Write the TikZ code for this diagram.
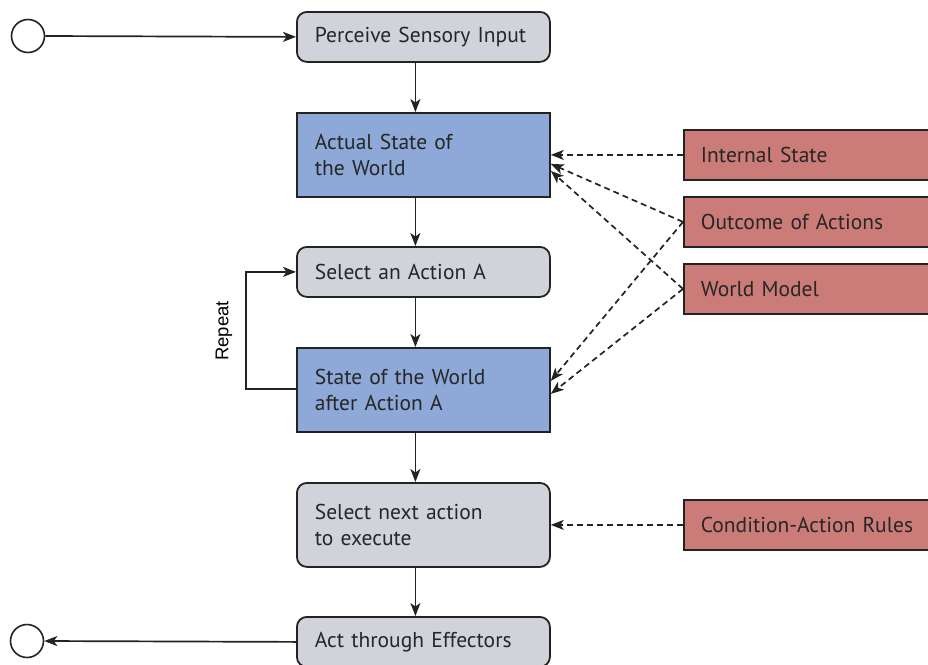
\documentclass[tikz,border=0pt]{standalone}
\usepackage{fontspec}
\setmainfont{PT Sans}
\newfontfamily\labelfont{Liberation Sans}
\usetikzlibrary{arrows.meta}
\definecolor{stepgray}{RGB}{209,211,218}
\definecolor{stateblue}{RGB}{142,169,216}
\definecolor{sourcered}{RGB}{203,124,121}
\definecolor{edge}{RGB}{35,35,35}
\tikzset{
  basebox/.style={draw=edge, line width=1.8pt, anchor=north west,
    text width=217pt, inner xsep=18pt, inner ysep=0pt, align=left,
    font=\fontsize{21.5}{26.5}\selectfont, text=black!85},
  stepbox/.style={basebox, fill=stepgray, rounded corners=10pt},
  statebox/.style={basebox, fill=stateblue},
  sourcebox/.style={basebox, fill=sourcered, text width=240pt, inner xsep=17pt, minimum height=50pt},
  flow/.style={draw=edge, line width=1.7pt, -{Stealth[length=13pt,width=10pt,inset=3.5pt]}},
  feed/.style={flow, dash pattern=on 6pt off 4pt},
  terminal/.style={circle, draw=edge, line width=1.6pt, fill=white, minimum size=33pt, inner sep=0pt}
}
\begin{document}
\begin{tikzpicture}[x=1pt,y=-1pt]
\useasboundingbox (0,0) rectangle (928,664);
\clip (0,0) rectangle (928,664);

% main sequence of steps
\node[stepbox, minimum height=50pt]  (perc) at (296,11)  {Perceive Sensory Input};
\node[statebox, minimum height=84pt] (act)  at (296,112) {Actual State of\\the World};
\node[stepbox, minimum height=50pt]  (sel)  at (296,246) {Select an Action A};
\node[statebox, minimum height=84pt] (aft)  at (296,347) {State of the World\\after Action A};
\node[stepbox, minimum height=84pt]  (nxt)  at (296,482) {Select next action\\to execute};
\node[stepbox, minimum height=50pt]  (eff)  at (296,616) {Act through Effectors};

% knowledge sources
\node[sourcebox] (ist) at (683,129) {Internal State};
\node[sourcebox] (out) at (683,196) {Outcome of Actions};
\node[sourcebox] (wm)  at (683,263) {World Model};
\node[sourcebox] (car) at (683,499) {Condition-Action Rules};

% start and end
\node[terminal] (start) at (28,36) {};
\node[terminal] (stop)  at (27,641) {};

% control flow
\draw[flow] (start.east) -- (perc.west);
\draw[flow] ([xshift=-8pt]perc.south) -- ([xshift=-8pt]act.north);
\draw[flow] ([xshift=-8pt]act.south)  -- ([xshift=-8pt]sel.north);
\draw[flow] ([xshift=-8pt]sel.south)  -- ([xshift=-8pt]aft.north);
\draw[flow] ([xshift=-8pt]aft.south)  -- ([xshift=-8pt]nxt.north);
\draw[flow] ([xshift=-8pt]nxt.south)  -- ([xshift=-8pt]eff.north);
\draw[flow] (eff.west) -- (stop.east);

% repeat loop
\draw[flow] ([yshift=1pt]aft.west) -- ++(-50,0) coordinate (loopb) |- (sel.west);
\node[rotate=90, font=\labelfont\fontsize{18.5}{18.5}\selectfont] (rep) at (224,331) {Repeat};

% knowledge feeding the states
\draw[feed] (ist.west) -- (act.east);
\draw[feed] (out.west) -- ([yshift=-9pt]act.east);
\draw[feed] (wm.west)  -- ([yshift=-16pt]act.east);
\draw[feed] (out.west) -- ([yshift=9pt]aft.east);
\draw[feed] (wm.west)  -- ([yshift=-4pt]aft.east);
\draw[feed] (car.west) -- (nxt.east);
\end{tikzpicture}
\end{document}
